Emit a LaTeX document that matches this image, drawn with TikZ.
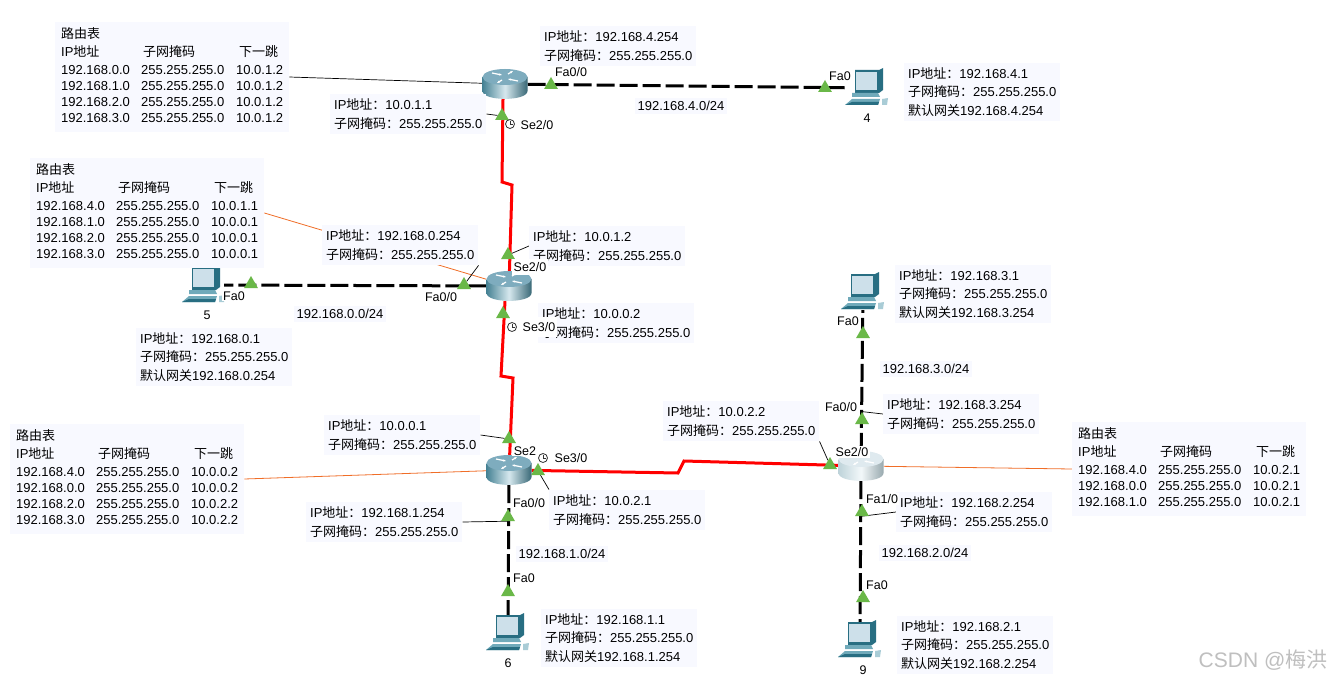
\documentclass[tikz,border=0pt]{standalone}
\usepackage{fontspec}
\setmainfont{Liberation Sans}
\newfontfamily\cjk{Noto Sans CJK SC}
\usetikzlibrary{arrows.meta, positioning, shapes.geometric, calc, backgrounds}
\definecolor{infobg}{RGB}{248, 249, 255}
\definecolor{portgreen}{RGB}{106, 184, 72}
\definecolor{leadorange}{RGB}{240, 110, 40}
\definecolor{routertop}{RGB}{126, 172, 190}
\definecolor{routerside}{RGB}{214, 232, 238}
\definecolor{routerdark}{RGB}{70, 130, 148}
\definecolor{pcscreen}{RGB}{205, 224, 234}
\definecolor{pcdark}{RGB}{40, 110, 130}
\definecolor{pcmid}{RGB}{112, 170, 186}

\newcommand{\ipdz}[1]{IP{\cjk 地址：}#1}
\newcommand{\yanma}{{\cjk 子网掩码：}255.255.255.0}
\newcommand{\wangguan}[1]{{\cjk 默认网关}#1}
\newcommand{\luyou}[1]{\setlength{\tabcolsep}{0pt}\begin{tabular}{@{}p{80pt}p{95pt}l@{}}
\multicolumn{3}{@{}l}{\cjk 路由表}\\[2pt]
IP{\cjk 地址} & \hspace{2pt}{\cjk 子网掩码} & \hspace{3pt}{\cjk 下一跳}\\[2pt]
#1
\end{tabular}}

\tikzset{
	router/.pic={
		\path[left color=routerdark, right color=routerdark!80!black, middle color=routerside]
			(-22.5,-7) -- (-22.5,7) .. controls (-22.5,17.5) and (22.5,17.5) .. (22.5,7) -- (22.5,-7) -- cycle;
		\fill[routertop] (0,-7) ellipse [x radius=22.5, y radius=8];
		\draw[white, line width=1.2pt, -{Stealth[length=3pt]}] (-13,-11) -- (-3,-9);
		\draw[white, line width=1.2pt, -{Stealth[length=3pt]}] (13,-3) -- (3,-5);
		\draw[white, line width=1.2pt, -{Stealth[length=3pt]}] (-3,-4) -- (-8,-1);
		\draw[white, line width=1.2pt, -{Stealth[length=3pt]}] (3,-10) -- (8,-13);
	},
	computer/.pic={
		\fill[pcdark] (-12,-18) -- (12,-18) -- (16,-20) -- (16,2) -- (12,5) -- (-12,5) -- cycle;
		\fill[pcscreen] (-11,-16) -- (10,-16) -- (10,2) -- (-11,2) -- cycle;
		\fill[pcmid] (-15,5) -- (11,5) -- (13,9) -- (-15,9) -- cycle;
		\fill[pcmid] (-15,11) -- (13,11) -- (11,17) -- (-22,17) -- cycle;
		\fill[pcdark] (-15,14) -- (12,14) -- (11,17) -- (-22,17) -- cycle;
		\fill[pcmid!60!white] (15,11) -- (21,10) -- (20,17) -- (15,17) -- cycle;
	},
	clock/.pic={
		\draw[black!80, line width=0.8pt, fill=white] (0,0) circle [radius=4.5];
		\draw[black!80, line width=0.7pt] (0,-3) -- (0,0) -- (2.5,0);
	}
}

\begin{document}
\begin{tikzpicture}[
		x=1pt, y=-1pt,
		routerbox/.style={minimum width=45pt, minimum height=30pt, inner sep=0pt},
		pcbox/.style={minimum width=40pt, minimum height=36pt, inner sep=0pt},
		info/.style={fill=infobg, align=left, anchor=west, xshift=2pt, inner xsep=4pt, inner ysep=5pt, font=\fontsize{13}{18.5}\selectfont},
		tablebox/.style={fill=infobg, align=left, anchor=west, inner xsep=6pt, inner ysep=5pt, font=\fontsize{13}{16}\selectfont},
		nettag/.style={fill=infobg, inner xsep=3pt, inner ysep=3pt, font=\fontsize{13}{15}\selectfont},
		port/.style={fill=white, inner xsep=1.5pt, inner ysep=1pt, font=\fontsize{12.5}{14}\selectfont},
		devname/.style={font=\fontsize{12.5}{14}\selectfont},
		tri/.style={regular polygon, regular polygon sides=3, fill=portgreen, inner sep=0pt, minimum size=16pt},
		serial/.style={red, line width=3pt, line join=miter},
		fast/.style={black, line width=3pt, dash pattern=on 18pt off 5pt},
		leader/.style={black, line width=0.7pt},
		orangelead/.style={leadorange, line width=0.8pt}
	]
	\useasboundingbox (0,0) rectangle (1340,682);

	% Devices
	\node[routerbox] (r1) at (505,84) {};
	\node[routerbox] (r2) at (509,286) {};
	\node[routerbox] (r3) at (509,470) {};
	\node[routerbox] (r4) at (861,466) {};
	\node[pcbox] (pc4) at (867,88) {};
	\node[pcbox] (pc5) at (204,285) {};
	\node[pcbox] (pc3) at (863,292) {};
	\node[pcbox] (pc6) at (508,633) {};
	\node[pcbox] (pc9) at (860,640) {};
	\pic at (r1) {router};
	\pic at (r2) {router};
	\pic at (r3) {router};
	\begin{scope}
		\colorlet{routertop}{routertop!25!white}
		\colorlet{routerside}{routerside!30!white}
		\colorlet{routerdark}{routerdark!35!white}
		\pic at (r4) {router};
	\end{scope}
	\pic at (pc4) {computer};
	\pic at (pc5) {computer};
	\pic at (pc3) {computer};
	\pic at (pc6) {computer};
	\pic at (pc9) {computer};
	\node[devname] (name4) at (867,118) {4};
	\node[devname] (name5) at (207,315) {5};
	\node[devname] (name6) at (508,663) {6};
	\node[devname] (name9) at (863,670) {9};

	% Routing tables
	\node[tablebox] (tab1) at (55,77) {\luyou{
		192.168.0.0 & 255.255.255.0 & 10.0.1.2\\
		192.168.1.0 & 255.255.255.0 & 10.0.1.2\\
		192.168.2.0 & 255.255.255.0 & 10.0.1.2\\
		192.168.3.0 & 255.255.255.0 & 10.0.1.2}};
	\node[tablebox] (tab2) at (30,213) {\luyou{
		192.168.4.0 & 255.255.255.0 & 10.0.1.1\\
		192.168.1.0 & 255.255.255.0 & 10.0.0.1\\
		192.168.2.0 & 255.255.255.0 & 10.0.0.1\\
		192.168.3.0 & 255.255.255.0 & 10.0.0.1}};
	\node[tablebox] (tab3) at (10,479) {\luyou{
		192.168.4.0 & 255.255.255.0 & 10.0.0.2\\
		192.168.0.0 & 255.255.255.0 & 10.0.0.2\\
		192.168.2.0 & 255.255.255.0 & 10.0.2.2\\
		192.168.3.0 & 255.255.255.0 & 10.0.2.2}};
	\node[tablebox] (tab4) at (1072,469) {\luyou{
		192.168.4.0 & 255.255.255.0 & 10.0.2.1\\
		192.168.0.0 & 255.255.255.0 & 10.0.2.1\\
		192.168.1.0 & 255.255.255.0 & 10.0.2.1}};

	% Address boxes
	\node[info] (r1fa) at (538,46) {\ipdz{192.168.4.254}\\\yanma};
	\node[info] (r1se) at (328,114) {\ipdz{10.0.1.1}\\\yanma};
	\node[info] (r2se2) at (527,246) {\ipdz{10.0.1.2}\\\yanma};
	\node[info] (r2fa) at (320,245) {\ipdz{192.168.0.254}\\\yanma};
	\node[info] (r2se3) at (536,323) {\ipdz{10.0.0.2}\\\yanma};
	\node[info] (r3se2) at (322,435) {\ipdz{10.0.0.1}\\\yanma};
	\node[info] (r3se3) at (547,510) {\ipdz{10.0.2.1}\\\yanma};
	\node[info] (r3fa) at (304,522) {\ipdz{192.168.1.254}\\\yanma};
	\node[info] (r4se) at (661,421) {\ipdz{10.0.2.2}\\\yanma};
	\node[info] (r4fa0) at (881,414) {\ipdz{192.168.3.254}\\\yanma};
	\node[info] (r4fa1) at (894,512) {\ipdz{192.168.2.254}\\\yanma};
	\node[info] (host4) at (902,92) {\ipdz{192.168.4.1}\\\yanma\\\wangguan{192.168.4.254}};
	\node[info] (host5) at (134,357) {\ipdz{192.168.0.1}\\\yanma\\\wangguan{192.168.0.254}};
	\node[info] (host3) at (893,294) {\ipdz{192.168.3.1}\\\yanma\\\wangguan{192.168.3.254}};
	\node[info] (host6) at (539,638) {\ipdz{192.168.1.1}\\\yanma\\\wangguan{192.168.1.254}};
	\node[info] (host9) at (895,645) {\ipdz{192.168.2.1}\\\yanma\\\wangguan{192.168.2.254}};

	% Network tags
	\node[nettag] (net4) at (681,106) {192.168.4.0/24};
	\node[nettag] (net0) at (340,314) {192.168.0.0/24};
	\node[nettag] (net3) at (926,369) {192.168.3.0/24};
	\node[nettag] (net2) at (925,553) {192.168.2.0/24};
	\node[nettag] (net1) at (562,554) {192.168.1.0/24};

	% Port markers
	\node[tri] (t1a) at (551,85) {};
	\node[tri] (t1b) at (502,116) {};
	\node[tri] (t4) at (825,88) {};
	\node[tri] (t2a) at (508,255) {};
	\node[tri] (t2b) at (464,285) {};
	\node[tri] (t2c) at (503,314) {};
	\node[tri] (t5) at (251,284) {};
	\node[tri] (t3a) at (509,439) {};
	\node[tri] (t3b) at (538,471) {};
	\node[tri] (t3c) at (508,517) {};
	\node[tri] (t6) at (508,592) {};
	\node[tri] (t4a) at (830,465) {};
	\node[tri] (t4b) at (862,420) {};
	\node[tri] (t4c) at (862,512) {};
	\node[tri] (t9) at (863,598) {};
	\node[tri] (t3) at (863,334) {};

	% Port labels
	\node[port] (p1) at (571,72) {Fa0/0};
	\node[port] (p2) at (537,125) {Se2/0};
	\node[port] (p3) at (840,76) {Fa0};
	\node[port, inner ysep=3pt] (p4) at (530,267) {Se2/0};
	\node[port] (p5) at (441,297) {Fa0/0};
	\node[port, inner ysep=5pt] (p6) at (539,327) {Se3/0};
	\node[port] (p7) at (234,296) {Fa0};
	\node[port] (p8) at (525,451) {Se2};
	\node[port] (p9) at (571,458) {Se3/0};
	\node[port] (p10) at (529,503) {Fa0/0};
	\node[port] (p11) at (524,578) {Fa0};
	\node[port] (p12) at (852,452) {Se2/0};
	\node[port] (p13) at (841,407) {Fa0/0};
	\node[port] (p14) at (882,499) {Fa1/0};
	\node[port] (p15) at (848,321) {Fa0};
	\node[port] (p16) at (877,585) {Fa0};
	\pic at (510,124) {clock};
	\pic at (512,327) {clock};
	\pic at (543,458) {clock};

	\node[font=\fontsize{21}{24}\selectfont, text=black!25] (mark) at (1263,660) {CSDN @{\cjk 梅洪}};

	% Connectors
	\begin{scope}[on background layer]
		\fill[white] (0,0) rectangle (1340,682);
		\draw[orangelead] (tab2.east) -- (r2);
		\draw[orangelead] (tab3.east) -- (r3);
		\draw[orangelead] (tab4.west) -- (r4);
		\draw[leader] (tab1.east) -- (r1);
		\draw[leader] (r1se.east) -- (t1b);
		\draw[leader] (r2se2.west) -- (t2a);
		\draw[leader] (r2fa.south east) -- (t2b);
		\draw[leader] (r3se2.east) -- (t3a);
		\draw[leader] (r3se3.north west) -- (t3b);
		\draw[leader] (r3fa.east) -- (t3c.south);
		\draw[leader] (r4se.south east) -- (t4a);
		\draw[leader] (r4fa0.west) -- (t4b.north);
		\draw[leader] (r4fa1.west) -- (t4c.south);
		\draw[serial] ([xshift=-2pt]r1.south) -- (502,182) -- (512,185) -- (r2);
		\draw[serial] ([xshift=-4pt]r2.south) -- (501,376) -- (513,378) -- (r3);
		\draw[serial] (r3) -- (678,473) -- (684,461) -- (r4);
		\draw[fast] (r1) -- (pc4);
		\draw[fast] (r2) -- (pc5);
		\draw[fast] (r3) -- (pc6);
		\draw[fast] (r4) -- (pc3);
		\draw[fast] (r4) -- (pc9);
	\end{scope}
\end{tikzpicture}
\end{document}
